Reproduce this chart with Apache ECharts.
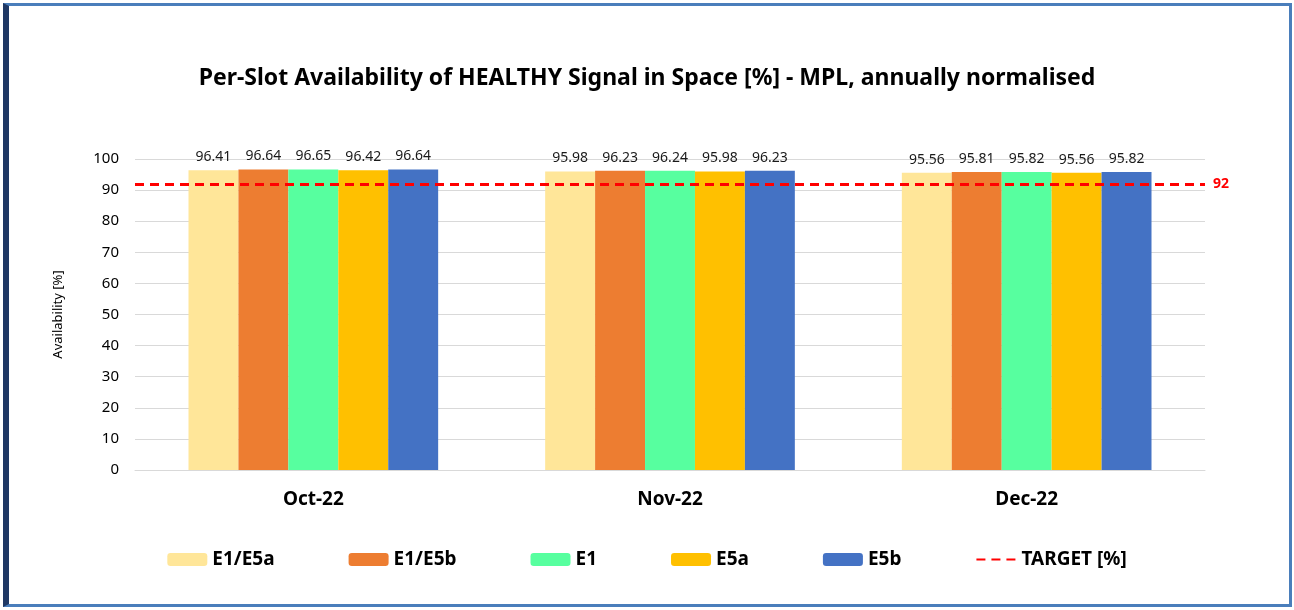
<!DOCTYPE html>
<html><head><meta charset="utf-8">
<script src="https://cdn.jsdelivr.net/npm/echarts@6/dist/echarts.min.js"></script>
<style>
html,body{margin:0;padding:0;background:#fff;}
#frame{position:absolute;left:3px;top:3px;width:1280px;height:598px;border-top:3px solid #4a7ebb;border-right:3px solid #4a7ebb;border-bottom:3px solid #4a7ebb;border-left:6px solid #1f3864;background:#fff;}
#chart{position:absolute;left:0;top:0;width:1294px;height:610px;}
</style></head>
<body>
<div id="frame"></div>
<div id="chart"></div>
<script>
const categories = ['Oct-22', 'Nov-22', 'Dec-22'];
const seriesNames = ['E1/E5a', 'E1/E5b', 'E1', 'E5a', 'E5b'];
const e1e5a = [96.41, 95.98, 95.56];
const e1e5b = [96.64, 96.23, 95.81];
const e1 = [96.65, 96.24, 95.82];
const e5a = [96.42, 95.98, 95.56];
const e5b = [96.64, 96.23, 95.82];
const target = 92;
const targetName = 'TARGET [%]';
const yTicks = [0, 10, 20, 30, 40, 50, 60, 70, 80, 90, 100];

const colors = ['#ffe699', '#ed7d31', '#57ff9f', '#ffc000', '#4472c4'];
const values = [e1e5a, e1e5b, e1, e5a, e5b];
const font = 'Noto Sans';

const chart = echarts.init(document.getElementById('chart'), null, {renderer: 'canvas'});
const barSeries = seriesNames.map((n, i) => ({
  name: n, type: 'bar', data: values[i], barGap: '0%', barCategoryGap: '30%',
  itemStyle: {color: colors[i]},
  label: {show: true, position: 'top', distance: 6, color: '#1a1a1a', fontSize: 14, fontFamily: font,
    formatter: p => p.value.toFixed(2)}
}));
chart.setOption({
  backgroundColor: 'transparent',
  animation: false,
  title: {text: 'Per-Slot Availability of HEALTHY Signal in Space [%] - MPL, annually normalised',
    left: 'center', top: 62, textStyle: {fontFamily: font, fontWeight: 'bold', fontSize: 23, color: '#000'}},
  grid: {left: 135, right: 89, top: 159, bottom: 140, containLabel: false},
  legend: {bottom: 36, left: 'center', itemWidth: 40, itemHeight: 13, itemGap: 74,
    textStyle: {fontFamily: font, fontWeight: 'bold', fontSize: 19, color: '#000'},
    data: seriesNames.concat([{name: targetName, itemStyle: {opacity: 0}}])},
  xAxis: {type: 'category', data: categories,
    axisLine: {lineStyle: {color: '#d9d9d9'}}, axisTick: {show: false},
    axisLabel: {fontFamily: font, fontWeight: 'bold', fontSize: 19, color: '#000', margin: 20}},
  yAxis: {type: 'value', min: yTicks[0], max: yTicks[yTicks.length-1], interval: 10,
    name: 'Availability [%]', nameLocation: 'middle', nameGap: 70, nameRotate: 90,
    nameTextStyle: {fontFamily: font, fontSize: 13, color: '#000'},
    axisLine: {show: false}, axisTick: {show: false},
    axisLabel: {fontFamily: font, fontSize: 15, color: '#000', margin: 16},
    splitLine: {lineStyle: {color: '#d9d9d9', width: 1}}},
  series: barSeries.concat([{
    name: targetName, type: 'line', data: [], symbol: 'none', showSymbol: false,
    itemStyle: {color: '#ff0000'},
    lineStyle: {color: '#ff0000', type: [9, 6], width: 3},
    markLine: {silent: true, symbol: 'none', z: 10,
      lineStyle: {color: '#ff0000', type: [9, 6], width: 3},
      label: {show: true, position: 'end', distance: 8, color: '#ff0000', fontWeight: 'bold', fontSize: 14, fontFamily: font,
        formatter: String(target)},
      data: [{yAxis: target}]}
  }])
});
</script>
</body></html>
